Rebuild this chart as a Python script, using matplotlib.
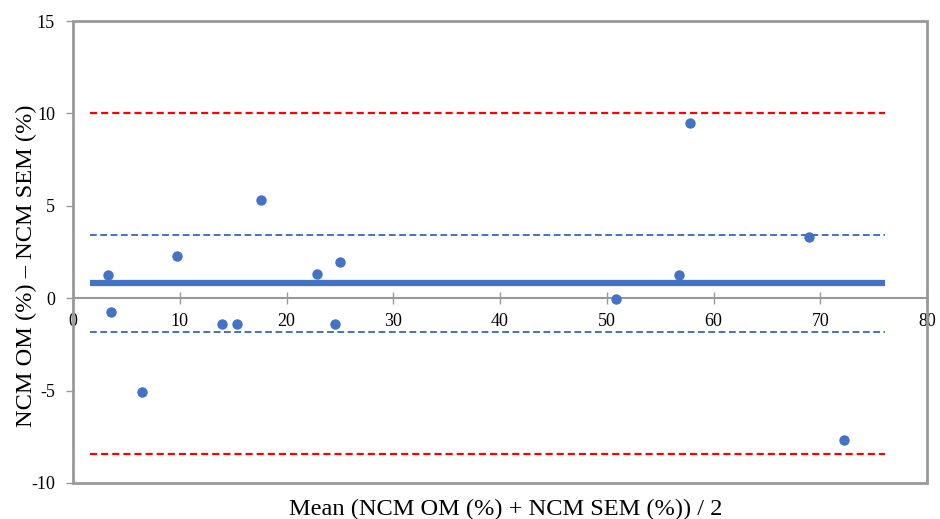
import matplotlib
matplotlib.use("Agg")
import matplotlib.pyplot as plt
from matplotlib.patches import Rectangle

# Bland-Altman data: mean of methods vs difference
mean_vals = [3.3, 3.6, 6.5, 9.7, 14.0, 15.4, 17.6, 22.9, 24.5, 25.0, 50.9, 56.8, 57.8, 68.9, 72.2]
diff_vals = [1.27, -0.73, -5.05, 2.27, -1.39, -1.39, 5.3, 1.33, -1.39, 1.98, -0.05, 1.27, 9.5, 3.32, -7.65]

bias = 0.82
loa_upper = 10.0
loa_lower = -8.45
ci_upper = 3.4
ci_lower = -1.83
line_span = [1.6, 76.1]

x_ticks = [0, 10, 20, 30, 40, 50, 60, 70, 80]
y_ticks = [-10, -5, 0, 5, 10, 15]

blue = "#4472C4"
red = "#FF0000"
gray = "#999999"

plt.rcParams["font.family"] = ["Liberation Serif", "DejaVu Serif"]

fig = plt.figure(figsize=(9.4, 5.19), dpi=100)
ax = fig.add_axes([0.0777, 0.0694, 0.9085, 0.8901])

ax.plot(line_span, [loa_upper] * 2, color=red, lw=1.6, ls=(0, (3.2, 1.8)))
ax.plot(line_span, [loa_lower] * 2, color=red, lw=1.6, ls=(0, (3.2, 1.8)))
ax.plot(line_span, [ci_upper] * 2, color=blue, lw=1.4, ls=(0, (3.5, 1.8)))
ax.plot(line_span, [ci_lower] * 2, color=blue, lw=1.4, ls=(0, (3.5, 1.8)))
ax.plot(line_span, [bias] * 2, color=blue, lw=4.5, solid_capstyle="butt")

ax.plot(mean_vals, diff_vals, "o", color=blue, ms=7.5, mec="none", zorder=5)

ax.set_xlim(0, 80)
ax.set_ylim(-10, 15)
ax.set_xticks(x_ticks)
ax.set_yticks(y_ticks)
ax.set_yticklabels([str(v) for v in y_ticks])

# x axis runs through zero, frame drawn separately
for side in ["top", "right", "left"]:
    ax.spines[side].set_visible(False)
ax.spines["bottom"].set_position(("data", 0))
ax.spines["bottom"].set_color(gray)
ax.spines["bottom"].set_linewidth(1.5)
ax.add_patch(Rectangle((0, 0), 1, 1, transform=ax.transAxes, fill=False,
                       edgecolor=gray, lw=2, clip_on=False, zorder=6))

ax.tick_params(axis="x", direction="inout", length=8, width=1, color=gray,
               labelsize=13, pad=7)
ax.tick_params(axis="y", direction="out", length=5, width=1, color=gray,
               labelsize=13, pad=8)

fig.text(0.538, 0.0077, "Mean (NCM OM (%) + NCM SEM (%)) / 2",
         ha="center", va="baseline", fontsize=17.6)
fig.text(0.0277, 0.487, "NCM OM (%) \u2013 NCM SEM (%)", rotation=90,
         ha="center", va="center", fontsize=17.6)

fig.savefig("out.png", dpi=100)
